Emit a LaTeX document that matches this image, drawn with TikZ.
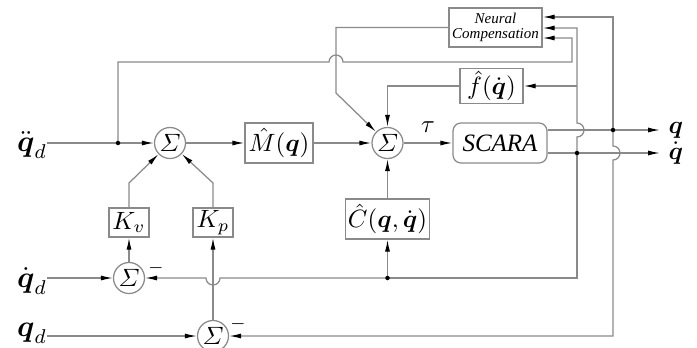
\documentclass[tikz,border=0pt]{standalone}
\usepackage{amsmath,amssymb}
\usepackage{fontspec}
\newfontfamily\tms{Liberation Serif}
\usetikzlibrary{arrows.meta,positioning,calc}
\definecolor{wirec}{HTML}{8A8A8A}
\tikzset{
  blk/.style={draw=wirec,line width=0.5pt,minimum height=16pt,inner sep=1pt},
  sumc/.style={circle,draw=wirec,line width=0.5pt,minimum size=12.4pt,inner sep=0pt},
  wire/.style={draw=wirec,line width=0.5pt},
  ar/.style={wire,-{Latex[length=4.8pt,width=2pt,color=black]}},
  jdot/.style={circle,fill=black,inner sep=0pt,minimum size=1.8pt},
  lbl/.style={inner sep=0pt,font=\large},
}

\begin{document}
\begin{tikzpicture}[x=0.4pt,y=-0.4pt]
  \useasboundingbox (0,0) rectangle (697,347);
  % blocks
  \node[sumc] (sA) at (170,143) {$\varSigma$};
  \node[blk,minimum width=27.2pt] (M) at (279,143) {$\hat{M}(\boldsymbol{q})$};
  \node[sumc] (sB) at (387.5,143) {$\varSigma$};
  \node[blk,rounded corners=3.2pt,minimum width=37.6pt,font=\tms\itshape] (S) at (500,143) {SCARA};
  \node[blk,minimum width=25.2pt,minimum height=12.8pt] (f) at (491.5,86) {$\hat{f}(\dot{\boldsymbol{q}})$};
  \node[blk,minimum width=30.8pt] (C) at (387.5,219) {$\hat{C}(\boldsymbol{q},\dot{\boldsymbol{q}})$};
  \node[blk,minimum width=37.2pt,minimum height=15.6pt,align=center,
        font=\fontsize{6}{6}\selectfont\tms\itshape] (NN) at (495.5,27.5) {Neural\\Compensation};
  \node[blk,minimum width=16pt,minimum height=11.6pt,inner sep=0.5pt] (Kv) at (129,222.5) {$K_v$};
  \node[blk,minimum width=16pt,minimum height=11.6pt,inner sep=0.5pt] (Kp) at (213,222.5) {$K_p$};
  \node[sumc] (sV) at (129,278) {$\varSigma$};
  \node[sumc] (sP) at (213,336) {$\varSigma$};
  \node[font=\scriptsize] (mV) at (156,268) {$-$};
  \node[font=\scriptsize] (mP) at (238,324) {$-$};

  % inputs and outputs
  \node[lbl] (qdd) at (32,145) {$\ddot{\boldsymbol{q}}_d$};
  \node[lbl] (qdl) at (32,281) {$\dot{\boldsymbol{q}}_d$};
  \node[lbl] (ql) at (32,333) {$\boldsymbol{q}_d$};
  \coordinate (qend) at (660,130);
  \coordinate (qdend) at (660,153);
  \node[inner sep=0pt,right=3.2pt of qend] (qo) {$\boldsymbol{q}$};
  \node[inner sep=0pt,right=3.2pt of qdend] (qdo) {$\dot{\boldsymbol{q}}$};

  % junctions
  \coordinate (jA) at (118,143);
  \coordinate (jq) at (613,130);
  \coordinate (jd) at (577,153);
  \coordinate (jf) at (577,86);
  \coordinate (jc) at (387.5,278);

  % forward path
  \draw[ar] (qdd.east |- sA) -- (sA);
  \draw[ar] (sA) -- (M);
  \draw[ar] (M) -- (sB);
  \draw[ar] (sB) -- node[above=0.5pt]{$\tau$} (S);
  \draw[ar] (S.east |- qend) -- (qend);
  \draw[ar] (S.east |- qdend) -- (qdend);

  % neural compensation
  \draw[ar] (jA) |- (329,62) arc[start angle=180,end angle=0,radius=2.8pt] -- (572,62) |- (NN.east |- 0,38);
  \draw[ar] (NN.west) -| (336,93) -- (sB);
  \draw[ar] (jq) |- (NN.east |- 0,17);
  \draw[ar] (jd) -- (577,137) arc[start angle=-90,end angle=90,radius=2.8pt] |- (NN.east |- 0,28);

  % feedback
  \draw[ar] (jf) -- (f);
  \draw[ar] (f.west) -| (sB);
  \draw[ar] (C) -- (sB);
  \draw[wire] (jd) |- (jc);
  \draw[ar] (jc) -- (C);
  \draw[ar] (jc) -- (220,278) arc[start angle=0,end angle=-180,radius=2.8pt] -- (sV);
  \draw[ar] (jq) -- (613,146) arc[start angle=90,end angle=-90,radius=2.8pt] |- (sP);

  % gains
  \draw[ar] (qdl.east |- sV) -- (sV);
  \draw[ar] (ql.east |- sP) -- (sP);
  \draw[ar] (sV) -- (Kv);
  \draw[ar] (sP) -- (Kp);
  \draw[ar] (Kv) -- (129,183) -- (sA);
  \draw[ar] (Kp) -- (213,183) -- (sA);

  \node[jdot] at (jA) {};
  \node[jdot] at (jq) {};
  \node[jdot] at (jd) {};
  \node[jdot] at (jc) {};
\end{tikzpicture}
\end{document}
